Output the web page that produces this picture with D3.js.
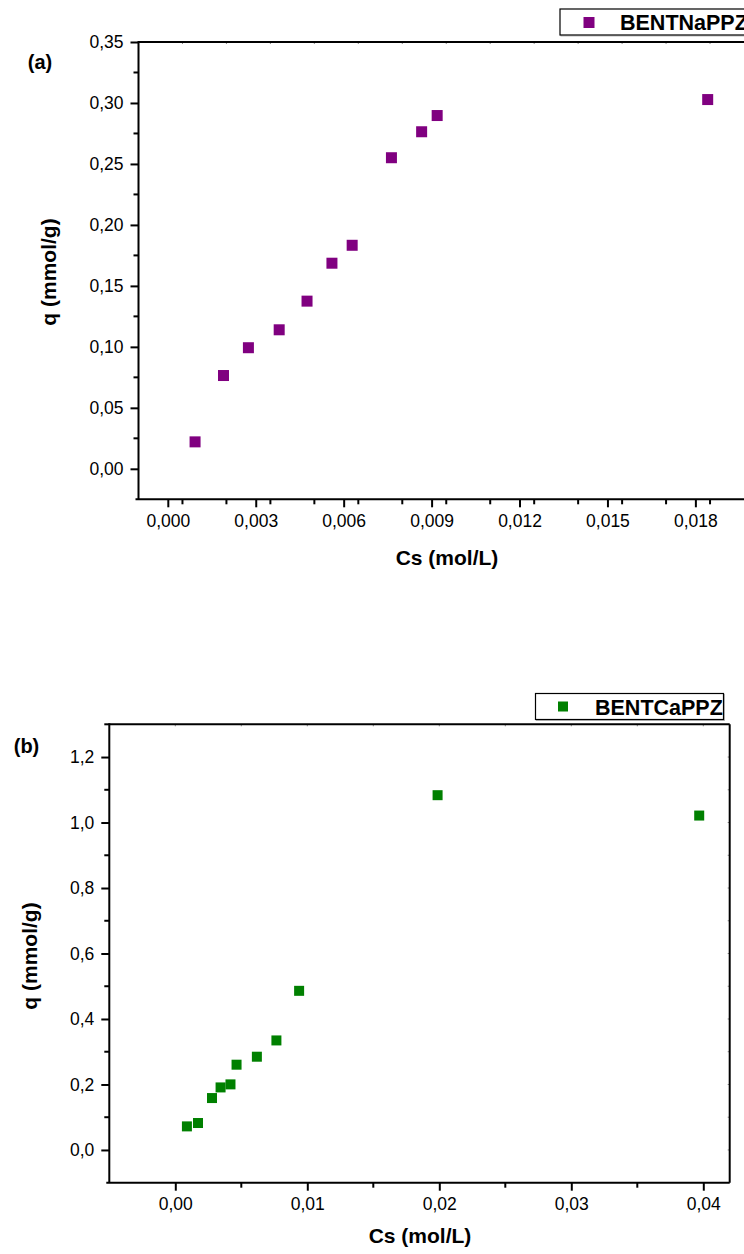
<!DOCTYPE html>
<html><head><meta charset="utf-8">
<script src="https://cdn.jsdelivr.net/npm/d3@7"></script>
<style>body{margin:0;background:#fff}svg{display:block;font-family:"Liberation Sans",Arial,sans-serif}</style>
</head><body>
<svg id="c" width="744" height="1254"></svg>
<script>
// Panel (a): BENTNaPPZ
const csA = [0.00093, 0.0019, 0.00275, 0.0038, 0.00475, 0.0056, 0.00629, 0.00763, 0.00866, 0.00919, 0.01842];
const qA  = [0.0221, 0.0765, 0.0993, 0.114, 0.1375, 0.1686, 0.1833, 0.2551, 0.2764, 0.2897, 0.3028];
const xTicksA = [0, 0.003, 0.006, 0.009, 0.012, 0.015, 0.018];
const yTicksA = [0, 0.05, 0.10, 0.15, 0.20, 0.25, 0.30, 0.35];
// Panel (b): BENTCaPPZ
const csB = [0.00088, 0.00172, 0.00278, 0.00343, 0.00418, 0.00464, 0.00618, 0.00766, 0.00938, 0.01987, 0.03969];
const qB  = [0.072, 0.0823, 0.1585, 0.191, 0.2003, 0.2604, 0.2848, 0.3345, 0.486, 1.0835, 1.0213];
const xTicksB = [0, 0.01, 0.02, 0.03, 0.04];
const yTicksB = [0, 0.2, 0.4, 0.6, 0.8, 1.0, 1.2];

const svg = d3.select("#c");

function panel(o){
  const g = svg.append("g");
  const x = d3.scaleLinear().domain(o.xd).range([o.l, o.r]);
  const y = d3.scaleLinear().domain(o.yd).range([o.b, o.t]);
  const fmtX = v => d3.format(o.xf)(v).replace(".", ",");
  const fmtY = v => d3.format(o.yf)(v).replace(".", ",");
  const xMinor = d3.range(o.xd[0], o.xd[1] + 1e-9, o.xm).filter(v => v > o.xd[0] + 1e-9);
  const yMinor = d3.range(o.yd[0], o.yd[1] + 1e-9, o.ym).filter(v => v > o.yd[0] + 1e-9);
  g.selectAll(".tt").data(xMinor).join("line")
    .attr("x1", d => x(d)).attr("x2", d => x(d)).attr("y1", o.t).attr("y2", o.t + 2)
    .attr("stroke", "#888").attr("stroke-width", 1);
  g.selectAll(".rt").data(yMinor).join("line")
    .attr("y1", d => y(d)).attr("y2", d => y(d)).attr("x1", o.r).attr("x2", o.r - 2)
    .attr("stroke", "#888").attr("stroke-width", 1);
  g.append("line").attr("x1", o.l).attr("x2", o.r).attr("y1", o.t).attr("y2", o.t).attr("stroke", "#000").attr("stroke-width", 2);
  g.append("line").attr("x1", o.r).attr("x2", o.r).attr("y1", o.t).attr("y2", o.b).attr("stroke", "#000").attr("stroke-width", 2);
  const xa = g.append("g").attr("transform", `translate(0,${o.b})`)
    .call(d3.axisBottom(x).tickValues(o.xt).tickFormat(fmtX).tickSize(8).tickPadding(7).tickSizeOuter(0));
  xa.select(".domain").attr("stroke-width", 2).attr("d", `M${o.l - 3},0H${o.r}`);
  xa.selectAll(".tick line").attr("stroke-width", 2);
  xa.selectAll("text").attr("font-size", 17.5).attr("fill", "#000")
    .attr("font-family", "Liberation Sans, Arial, sans-serif");
  g.selectAll(".xm").data(xMinor.filter(v => !o.xt.some(t => Math.abs(t - v) < 1e-9)))
    .join("line").attr("x1", d => x(d)).attr("x2", d => x(d)).attr("y1", o.b).attr("y2", o.b + 5)
    .attr("stroke", "#000").attr("stroke-width", 2);
  const ya = g.append("g").attr("transform", `translate(${o.l},0)`)
    .call(d3.axisLeft(y).tickValues(o.yt).tickFormat(fmtY).tickSize(8).tickPadding(7).tickSizeOuter(0));
  ya.select(".domain").attr("stroke-width", 2).attr("d", `M0,${o.b}V${o.t - 1}`);
  ya.selectAll(".tick line").attr("stroke-width", 2);
  ya.selectAll("text").attr("font-size", 17.5).attr("fill", "#000")
    .attr("font-family", "Liberation Sans, Arial, sans-serif");
  g.selectAll(".ymn").data(yMinor.filter(v => !o.yt.some(t => Math.abs(t - v) < 1e-9)))
    .join("line").attr("y1", d => y(d)).attr("y2", d => y(d)).attr("x1", o.l).attr("x2", o.l - 5)
    .attr("stroke", "#000").attr("stroke-width", 2);
  const s = o.ms;
  g.selectAll(".pt").data(o.xs.map((v, i) => [v, o.ys[i]])).join("rect")
    .attr("x", d => x(d[0]) - s / 2).attr("y", d => y(d[1]) - s / 2)
    .attr("width", s).attr("height", s).attr("fill", o.color);
  g.append("text").attr("x", o.xtX).attr("y", o.xtY).attr("text-anchor", "middle")
    .attr("font-size", 21).attr("font-weight", "bold").text("Cs (mol/L)");
  g.append("text").attr("transform", `translate(${o.ytX},${o.ytY}) rotate(-90)`)
    .attr("text-anchor", "middle").attr("font-size", 21).attr("font-weight", "bold").text("q (mmol/g)");
  g.append("text").attr("x", o.lab[0]).attr("y", o.lab[1]).attr("text-anchor", "middle")
    .attr("font-size", 20).attr("font-weight", "bold").text(o.label);
  g.append("rect").attr("x", o.lg[0] + 1).attr("y", o.lg[1] + 1).attr("width", o.lg[2]).attr("height", o.lg[3])
    .attr("fill", "none").attr("stroke", "#bbb").attr("stroke-width", 1);
  g.append("rect").attr("x", o.lg[0]).attr("y", o.lg[1]).attr("width", o.lg[2]).attr("height", o.lg[3])
    .attr("fill", "#fff").attr("stroke", "#000").attr("stroke-width", 1.2);
  g.append("rect").attr("x", o.lgm[0] - s / 2).attr("y", o.lgm[1] - s / 2).attr("width", s).attr("height", s).attr("fill", o.color);
  g.append("text").attr("x", o.lgt[0]).attr("y", o.lgt[1]).attr("font-size", 21.5).attr("font-weight", "bold").text(o.name);
}

panel({xs: csA, ys: qA, xt: xTicksA, yt: yTicksA, xd: [-0.001, 0.02], yd: [-0.025, 0.35],
  xm: 0.0015, ym: 0.025, xf: ".3f", yf: ".2f", l: 138.5, r: 754, t: 42, b: 499.3,
  ms: 11, color: "#800080", xtX: 447, xtY: 565, ytX: 56, ytY: 272, lab: [40, 69], label: "(a)",
  lg: [560, 9, 200, 26], lgm: [589, 22.5], lgt: [620, 30], name: "BENTNaPPZ"});

panel({xs: csB, ys: qB, xt: xTicksB, yt: yTicksB, xd: [-0.005, 0.042], yd: [-0.1, 1.3],
  xm: 0.005, ym: 0.1, xf: ".2f", yf: ".1f", l: 109.3, r: 729.7, t: 724.3, b: 1182.7,
  ms: 10, color: "#008000", xtX: 420, xtY: 1243, ytX: 37, ytY: 956, lab: [26.5, 753], label: "(b)",
  lg: [535.5, 693.5, 188, 26], lgm: [563, 706.5], lgt: [595, 714.5], name: "BENTCaPPZ"});
</script>
</body></html>
